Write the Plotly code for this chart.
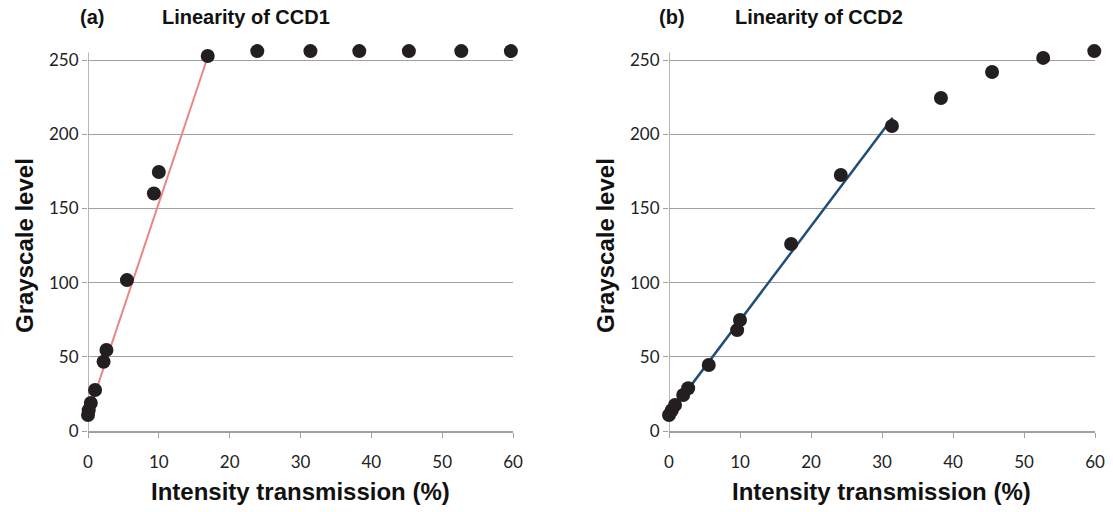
import plotly.graph_objects as go

# Panel (a): CCD1
ccd1_x = [0.0, 0.1, 0.4, 1.0, 2.2, 2.6, 5.5, 9.3, 10.0, 16.9, 23.9, 31.4, 38.3, 45.3, 52.7, 59.7]
ccd1_y = [10.8, 14, 18.9, 27.6, 46.7, 54.6, 101.7, 160, 174.5, 252.7, 256, 256, 256, 256, 256, 256]
fit1_x = [0.0, 16.9]
fit1_y = [11, 252]

# Panel (b): CCD2
ccd2_x = [0.0, 0.4, 0.85, 2.0, 2.7, 5.6, 9.6, 10.0, 17.2, 24.2, 31.4, 38.3, 45.5, 52.7, 59.9]
ccd2_y = [10.8, 14, 17.5, 24.3, 28.8, 44.5, 68, 74.8, 126, 172.5, 205.5, 224.4, 241.9, 251.4, 256]
fit2_x = [0.0, 31.5]
fit2_y = [11, 211]

x_ticks = [0, 10, 20, 30, 40, 50, 60]
y_ticks = [0, 50, 100, 150, 200, 250]
y_max = 262
axis_top = 255

W, H = 1113, 512
def px(v): return v / W
def py(v): return (H - v) / H

fig = go.Figure()
fig.add_trace(go.Scatter(x=fit1_x, y=fit1_y, mode="lines", line=dict(color="#e8868a", width=2),
                         xaxis="x", yaxis="y", showlegend=False, cliponaxis=False))
fig.add_trace(go.Scatter(x=ccd1_x, y=ccd1_y, mode="markers", marker=dict(color="#231f20", size=14),
                         xaxis="x", yaxis="y", showlegend=False, cliponaxis=False))
fig.add_trace(go.Scatter(x=fit2_x, y=fit2_y, mode="lines", line=dict(color="#1f4e79", width=2.5),
                         xaxis="x2", yaxis="y2", showlegend=False, cliponaxis=False))
fig.add_trace(go.Scatter(x=ccd2_x, y=ccd2_y, mode="markers", marker=dict(color="#231f20", size=14),
                         xaxis="x2", yaxis="y2", showlegend=False, cliponaxis=False))

tickfont = dict(family="Lato, Liberation Sans, sans-serif", size=17, color="#222")
titlefont = dict(family="Liberation Sans, Arial, sans-serif", size=24, color="#111", weight="bold")
AX = "#a0a0a0"

def xaxis(domain, anchor):
    return dict(domain=domain, anchor=anchor, range=[0, 60], tickvals=x_ticks, automargin=False,
                showgrid=False, zeroline=False, showline=True, linecolor=AX, linewidth=1.5,
                ticks="outside", ticklen=5, tickcolor=AX, tickfont=tickfont, ticklabelstandoff=10)

def yaxis(domain, anchor):
    return dict(domain=domain, anchor=anchor, range=[0, y_max], tickvals=y_ticks, automargin=False,
                showgrid=True, gridcolor=AX, gridwidth=1.2, zeroline=False,
                showline=False, ticks="outside", ticklen=5, tickcolor=AX, tickfont=tickfont)

y0_px, y250_px = 431, 60
ytop_px = y0_px - (y0_px - y250_px) * y_max / 250
ydom = [py(y0_px), py(ytop_px)]
fig.update_layout(
    width=W, height=H, margin=dict(l=0, r=0, t=0, b=0),
    paper_bgcolor="white", plot_bgcolor="white",
    xaxis=xaxis([px(88), px(513)], "y"),
    yaxis=yaxis(ydom, "x"),
    xaxis2=xaxis([px(669), px(1095)], "y2"),
    yaxis2=yaxis(ydom, "x2"),
)

# y axis lines (stop just above the 250 gridline)
for xr, yr in [("x", "y"), ("x2", "y2")]:
    fig.add_shape(type="line", xref=xr, yref=yr, x0=0, x1=0, y0=0, y1=axis_top,
                  line=dict(color=AX, width=1.5), layer="below")

hdr = dict(family="Liberation Sans, Arial, sans-serif", size=20, color="#111", weight="bold")
for txt, x in [("(a)", 92), ("Linearity of CCD1", 246), ("(b)", 672), ("Linearity of CCD2", 819)]:
    fig.add_annotation(text=txt, x=px(x), y=py(17), xref="paper", yref="paper",
                       showarrow=False, font=hdr, xanchor="center", yanchor="middle")

for x in [300, 881]:
    fig.add_annotation(text="Intensity transmission (%)", x=px(x), y=py(491), xref="paper", yref="paper",
                       showarrow=False, font=titlefont, xanchor="center", yanchor="middle")
for x in [24, 605]:
    fig.add_annotation(text="Grayscale level", x=px(x), y=py(246), xref="paper", yref="paper",
                       showarrow=False, font=titlefont, xanchor="center", yanchor="middle", textangle=-90)

fig.write_html("out.html", config={"displayModeBar": False},
               post_script="document.body.style.margin='0';document.body.style.overflow='hidden';")
